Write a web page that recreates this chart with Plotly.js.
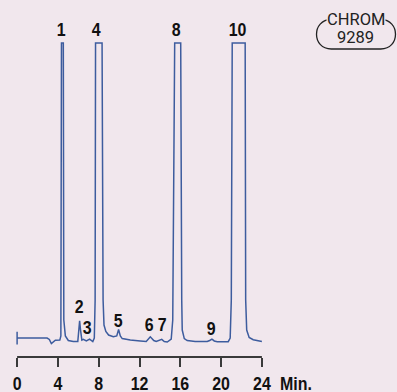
<!DOCTYPE html>
<html>
<head>
<meta charset="utf-8">
<script src="https://cdn.plot.ly/plotly-3.0.1.min.js"></script>
<style>
  html, body { margin: 0; padding: 0; background: #f1e7ed; }
  #chart { width: 397px; height: 392px; }
</style>
</head>
<body>
<div id="chart"></div>
<script>
// Chromatogram trace: retention time (min) and detector signal (relative, 100 = detector full scale)
const retentionTime = [0, 0, 0, 2.94, 3.16, 3.36, 3.56, 3.75, 4.19, 4.29, 4.35, 4.53, 4.58, 4.73,
  5.02, 5.51, 5.95, 6.06, 6.13, 6.22, 6.35, 6.49, 6.79, 7.11, 7.42, 7.57, 7.65, 7.69, 8.33, 8.43,
  8.52, 8.7, 8.97, 9.43, 9.77, 9.95, 10.12, 10.31, 11.1, 12.08, 12.66, 13.06, 13.4, 13.64, 13.94,
  14.18, 14.43, 14.72, 15.11, 15.26, 15.45, 16.04, 16.14, 16.19, 16.39, 16.68, 17.46, 18.64, 18.88,
  19.1, 19.33, 19.62, 20.7, 20.89, 21.0, 21.09, 22.36, 22.41, 22.51, 22.75, 23.15, 23.64, 24.0];
const signal = [2.1, -2.2, 0, 0, -0.5, -1.9, -1.2, -0.75, -0.7, 0.7, 100, 100, 6.1, 0.7,
  -0.85, -1.2, -1.2, 2.7, 5.8, 2.7, -0.7, -0.45, -1.0, -0.4, -1.2, 0, 12.9, 100, 100, 12.9,
  4.4, 2.2, 1.0, 0.4, 0.7, 2.9, 0.7, -0.2, -0.7, -1.0, -1.2, 0.4, -0.85, -1.2, -0.85,
  -0.45, -1.2, -1.35, -0.35, 6.1, 100, 100, 12.9, 2.7, -0.2, -0.85, -1.2, -1.2, -0.85,
  -0.4, -1.0, -1.25, -1.25, 0, 12.9, 100, 100, 12.9, 2.7, 0.2, -0.6, -0.95, -1.2];

// Peak numbering
const peakLabels = ['1', '2', '3', '4', '5', '6', '7', '8', '9', '10'];
const peakLabelTime = [4.35, 6.13, 6.95, 7.83, 9.92, 13.0, 14.23, 15.64, 19.08, 21.63];
const peakLabelLevel = [null, 10.6, 3.5, null, 6.1, 4.7, 4.7, null, 3.3, null]; // null = off-scale peak

// Time axis
const tickValues = [0, 4, 8, 12, 16, 20, 24];
const tickLabels = ['0', '4', '8', '12', '16', '20', '24'];
const timeUnit = 'Min.';
const chromId = ['CHROM', '9289'];

const BG = '#f1e7ed';
const LINE = '#3d5c9e';
const AXIS = '#3a3a3a';
const CONDENSE = 0.84;   // horizontal squeeze for the bold condensed labels
const M = { l: 12, r: 130, t: 40, b: 35 };
const W = 397 - M.l - M.r;
const H = 392 - M.t - M.b;
const bottom = M.t + H;
const px = x => (x - M.l) / W;          // page pixel -> paper x
const py = y => (bottom - y) / H;       // page pixel -> paper y

const labelFont = { family: 'Liberation Sans, Arial, sans-serif', size: 19, color: '#111', weight: 700 };

const annotations = peakLabels.map((txt, i) => {
  const off = peakLabelLevel[i] === null;
  return {
    text: txt, showarrow: false, font: labelFont,
    xref: 'x', x: peakLabelTime[i],
    yref: off ? 'paper' : 'y', y: off ? py(29) : peakLabelLevel[i],
    xanchor: 'center', yanchor: 'middle'
  };
});
annotations.push({
  text: timeUnit, showarrow: false, font: labelFont,
  xref: 'paper', x: px(274.5), yref: 'paper', y: py(383.5),
  xanchor: 'left', yanchor: 'middle'
});
const badgeFont = { family: 'Roboto, Liberation Sans, sans-serif', size: 16.5, color: '#222' };
annotations.push({
  text: chromId[0], showarrow: false, font: badgeFont, bgcolor: BG, borderpad: 0,
  xref: 'paper', x: px(355.5), yref: 'paper', y: py(20), xanchor: 'center', yanchor: 'middle'
});
annotations.push({
  text: chromId[1], showarrow: false, font: badgeFont,
  xref: 'paper', x: px(355.5), yref: 'paper', y: py(37), xanchor: 'center', yanchor: 'middle'
});

// Rounded badge outline around the chromatogram number
function badgePath(x0, x1, y0, y1) {
  const r = (y1 - y0) / 2, k = r * 1.333;
  const pts = [
    ['M', x0 + r, y0], ['L', x1 - r, y0],
    ['C', x1 - r + k, y0, x1 - r + k, y1, x1 - r, y1],
    ['L', x0 + r, y1],
    ['C', x0 + r - k, y1, x0 + r - k, y0, x0 + r, y0]
  ];
  return pts.map(p => {
    const c = p[0]; const v = p.slice(1); const out = [];
    for (let i = 0; i < v.length; i += 2) out.push(px(v[i]).toFixed(5) + ',' + py(v[i + 1]).toFixed(5));
    return c + out.join(' ');
  }).join(' ') + ' Z';
}

const shapes = [
  { type: 'line', xref: 'x', yref: 'paper', x0: 0, x1: 24, y0: 0, y1: 0,
    line: { color: AXIS, width: 2 } },
  { type: 'path', xref: 'paper', yref: 'paper', path: badgePath(316.5, 395.5, 19.5, 49),
    line: { color: '#222', width: 1.3 } }
];

const trace = {
  x: retentionTime, y: signal, type: 'scatter', mode: 'lines',
  line: { color: LINE, width: 1.5 }, hoverinfo: 'skip'
};

const layout = {
  width: 397, height: 392, margin: M,
  paper_bgcolor: BG, plot_bgcolor: BG, showlegend: false,
  xaxis: {
    range: [-0.5, 24.5], tickvals: tickValues, ticktext: tickLabels,
    ticks: 'outside', ticklen: 9, tickwidth: 2, tickcolor: AXIS,
    showline: false, showgrid: false, zeroline: false,
    tickfont: labelFont, fixedrange: true
  },
  yaxis: { range: [-6.44, 101.02], visible: false, fixedrange: true },
  annotations: annotations, shapes: shapes
};

// Squeeze the bold numerals horizontally about their anchor to get a condensed face
function condense(gd) {
  const keep = new Set(chromId);
  gd.querySelectorAll('.annotation-text, .xtick text').forEach(el => {
    if (keep.has(el.textContent)) return;
    const x = parseFloat(el.getAttribute('x')) || 0;
    const base = el.getAttribute('transform') || '';
    el.setAttribute('transform',
      base + ' translate(' + x + ',0) scale(' + CONDENSE + ',1) translate(' + (-x) + ',0)');
  });
}

Plotly.newPlot('chart', [trace], layout, { staticPlot: true }).then(condense);
</script>
</body>
</html>
